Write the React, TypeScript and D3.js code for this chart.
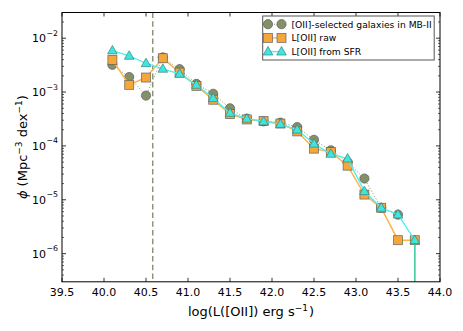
import React from "react";
import * as d3 from "d3";

const xs: number[] = [40.1, 40.3, 40.5, 40.7, 40.9, 41.1, 41.3, 41.5, 41.7, 41.9, 42.1, 42.3, 42.5, 42.7, 42.9, 43.1, 43.3, 43.5, 43.7];

const galaxiesMB: number[] = [3.2e-3, 1.9e-3, 8.6e-4, 4.4e-3, 2.66e-3, 1.42e-3, 9.3e-4, 5.0e-4, 3.2e-4, 2.85e-4, 2.7e-4, 2.24e-4, 1.3e-4, 8.3e-5, 5.0e-5, 2.48e-5, 7.1e-6, 5.3e-6];
const lRaw: number[] = [3.95e-3, 1.36e-3, 1.86e-3, 4.25e-3, 2.3e-3, 1.3e-3, 7.2e-4, 3.9e-4, 3.1e-4, 2.9e-4, 2.6e-4, 1.86e-4, 8.9e-5, 7.7e-5, 4.3e-5, 1.25e-5, 7.1e-6, 1.78e-6, 1.78e-6];
const lSFR: number[] = [5.9e-3, 4.7e-3, 3.43e-3, 2.7e-3, 2.18e-3, 1.36e-3, 7.7e-4, 4.1e-4, 3.2e-4, 2.85e-4, 2.55e-4, 2.0e-4, 1.1e-4, 7.1e-5, 5.8e-5, 1.44e-5, 7.1e-6, 5.3e-6, 1.78e-6];

const xTicks: number[] = [39.5, 40.0, 40.5, 41.0, 41.5, 42.0, 42.5, 43.0, 43.5, 44.0];
const yDecades: number[] = [-6, -5, -4, -3, -2];
const cutLum = 40.58;

const legendLabels: string[] = ["[OII]-selected galaxies in MB-II", "L[OII] raw", "L[OII] from SFR"];

const W = 463, H = 331;
const L = 62, R = 440, T = 12.5, B = 281.8;
const FONT = "DejaVu Sans, sans-serif";

const COL_C = "#7d8a5f";
const COL_S = "#f6a73a";
const COL_S_LINE = "#f9b552";
const COL_T = "#3ee6e0";
const COL_T_LINE = "#4cf0f0";
const EDGE = "#5a5a5a";

function Marker({ kind, x, y }: { kind: string; x: number; y: number }) {
  if (kind === "c") return <circle cx={x} cy={y} r={4.6} fill={COL_C} stroke={EDGE} strokeWidth={0.7} fillOpacity={0.95} />;
  if (kind === "s") return <rect x={x - 4.5} y={y - 4.5} width={9} height={9} fill={COL_S} stroke={EDGE} strokeOpacity={0.8} strokeWidth={0.8} />;
  const h = 8.5, w = 9.6;
  return <path d={`M${x},${y - h * 0.6} L${x + w / 2},${y + h * 0.4} L${x - w / 2},${y + h * 0.4} Z`} fill={COL_T} stroke="#3d7f7c" strokeWidth={0.7} />;
}

export default function App() {
  const x = d3.scaleLinear().domain([39.5, 44]).range([L, R]);
  const y = d3.scaleLog().domain([3e-7, 3e-2]).range([B, T]);
  const line = d3.line<[number, number]>().x(d => x(d[0])).y(d => y(d[1]));

  const cPts: [number, number][] = galaxiesMB.map((v, i) => [xs[i], v]);
  const sPts: [number, number][] = lRaw.map((v, i) => [xs[i], v]);
  const tPts: [number, number][] = lSFR.map((v, i) => [xs[i], v]);

  const minor: number[] = [];
  for (let d = -7; d <= -2; d++) for (let k = 2; k <= 9; k++) {
    const v = k * Math.pow(10, d);
    if (v > 3e-7 && v < 3e-2) minor.push(v);
  }

  const lastS = sPts[sPts.length - 1];
  const lastT = tPts[tPts.length - 1];

  const legX = 262.7, legY = 16, legW = 171.5, legH = 44;
  const rowY = [24.2, 37.9, 51.6];
  const kinds = ["c", "s", "t"];

  return (
    <div style={{ position: "fixed", left: 0, top: 0 }}>
      <svg width={W} height={H} style={{ display: "block", fontFamily: FONT }}>
        <rect x={0} y={0} width={W} height={H} fill="#fff" />
        <defs>
          <clipPath id="plot"><rect x={L} y={T} width={R - L} height={B - T} /></clipPath>
        </defs>
        <g clipPath="url(#plot)">
          <line x1={x(cutLum)} x2={x(cutLum)} y1={T} y2={B} stroke="#8a9478" strokeWidth={1.5} strokeDasharray="5.5,3.2" />
          {/* circles series */}
          <path d={line(cPts) || ""} fill="none" stroke="#8c9470" strokeWidth={1} strokeDasharray="1,2" />
          {cPts.map((p, i) => <Marker key={"c" + i} kind="c" x={x(p[0])} y={y(p[1])} />)}
          {/* squares series */}
          <path d={line(sPts) || ""} fill="none" stroke={COL_S_LINE} strokeWidth={1.5} />
          <line x1={x(lastS[0])} x2={x(lastS[0])} y1={y(lastS[1])} y2={B + 5} stroke={COL_S_LINE} strokeWidth={1.5} />
          {sPts.map((p, i) => <Marker key={"s" + i} kind="s" x={x(p[0])} y={y(p[1])} />)}
          {/* triangles series */}
          <path d={line(tPts) || ""} fill="none" stroke={COL_T_LINE} strokeWidth={1.3} />
          <line x1={x(lastT[0])} x2={x(lastT[0])} y1={y(lastT[1])} y2={B + 5} stroke="#2ed0b4" strokeWidth={1.3} />
          {tPts.map((p, i) => <Marker key={"t" + i} kind="t" x={x(p[0])} y={y(p[1])} />)}
        </g>

        {/* ticks */}
        {xTicks.map(t => (
          <g key={"xt" + t}>
            <line x1={x(t)} x2={x(t)} y1={B} y2={B - 4} stroke="#000" strokeWidth={0.8} />
            <line x1={x(t)} x2={x(t)} y1={T} y2={T + 4} stroke="#000" strokeWidth={0.8} />
            <text x={x(t)} y={296} fontSize={11} textAnchor="middle" fill="#000">{t.toFixed(1)}</text>
          </g>
        ))}
        {yDecades.map(dd => {
          const yy = y(Math.pow(10, dd));
          return (
            <g key={"yt" + dd}>
              <line x1={L} x2={L + 4} y1={yy} y2={yy} stroke="#000" strokeWidth={0.8} />
              <line x1={R} x2={R - 4} y1={yy} y2={yy} stroke="#000" strokeWidth={0.8} />
              <text x={46} y={yy + 4} fontSize={11} textAnchor="end" fill="#000">10</text>
              <text x={46.5} y={yy - 2.5} fontSize={7.8} textAnchor="start" fill="#000">{"\u2212" + Math.abs(dd)}</text>
            </g>
          );
        })}
        {minor.map((v, i) => (
          <g key={"ym" + i}>
            <line x1={L} x2={L + 2} y1={y(v)} y2={y(v)} stroke="#000" strokeWidth={0.6} />
            <line x1={R} x2={R - 2} y1={y(v)} y2={y(v)} stroke="#000" strokeWidth={0.6} />
          </g>
        ))}
        <rect x={L} y={T} width={R - L} height={B - T} fill="none" stroke="#000" strokeWidth={1} />

        {/* axis labels */}
        <text x={(L + R) / 2} y={316} fontSize={13} textAnchor="middle" fill="#000">
          log(L([OII]) erg s<tspan dy={-5} fontSize={9}>{"\u22121"}</tspan><tspan dy={5} dx={1}>)</tspan>
        </text>
        <text transform={`translate(27,${(T + B) / 2}) rotate(-90)`} fontSize={13} textAnchor="middle" fill="#000">
          <tspan fontStyle="italic">ϕ</tspan> (Mpc<tspan dy={-5} fontSize={9}>{"\u22123"}</tspan><tspan dy={5}> dex</tspan><tspan dy={-5} fontSize={9}>{"\u22121"}</tspan><tspan dy={5}>)</tspan>
        </text>

        {/* legend */}
        <rect x={legX} y={legY} width={legW} height={legH} fill="#fff" stroke="#555" strokeWidth={1} />
        {legendLabels.map((lab, i) => (
          <g key={"lg" + i}>
            {i === 0 ? (
              <line x1={268} x2={281.5} y1={rowY[i]} y2={rowY[i]} stroke="#8c9470" strokeWidth={1} strokeDasharray="1,2" />
            ) : (
              <line x1={268} x2={281.5} y1={rowY[i]} y2={rowY[i]} stroke={i === 1 ? COL_S_LINE : COL_T_LINE} strokeWidth={1.4} />
            )}
            <Marker kind={kinds[i]} x={268} y={rowY[i]} />
            <Marker kind={kinds[i]} x={281.5} y={rowY[i]} />
            <text x={291.5} y={rowY[i] + 3.3} fontSize={9.2} fill="#000">{lab}</text>
          </g>
        ))}
      </svg>
    </div>
  );
}
